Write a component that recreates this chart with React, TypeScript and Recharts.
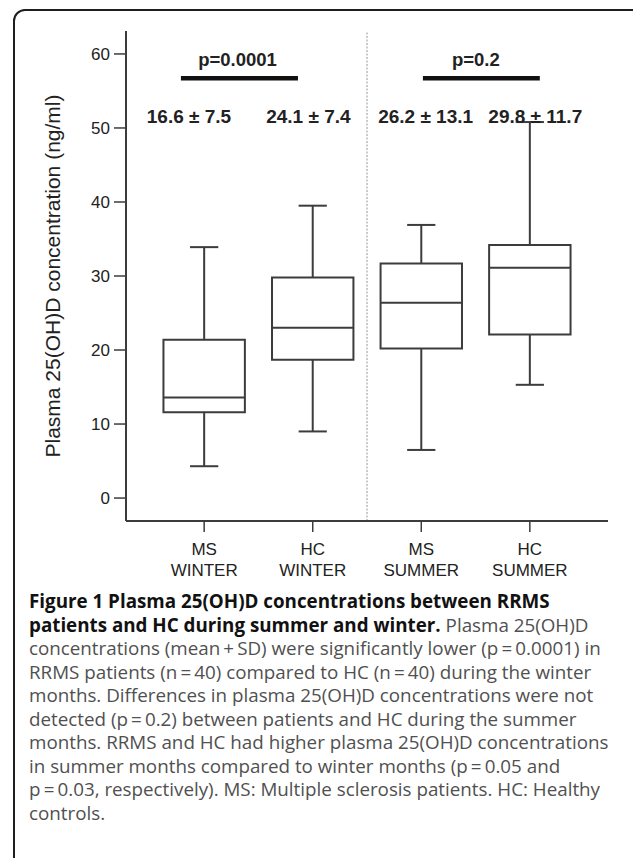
import React from "react";
import {
  ComposedChart,
  XAxis,
  YAxis,
  ReferenceArea,
  ReferenceLine,
  Scatter,
} from "recharts";

// ---------- data ----------
const GROUP_POS = [1, 2, 3, 4];
const GROUP_LINE1 = ["MS", "HC", "MS", "HC"];
const GROUP_LINE2 = ["WINTER", "WINTER", "SUMMER", "SUMMER"];
const WHISKER_LOW = [4.3, 9.0, 6.5, 15.3];
const Q1 = [11.6, 18.7, 20.2, 22.1];
const MEDIAN = [13.6, 23.0, 26.4, 31.1];
const Q3 = [21.4, 29.8, 31.7, 34.2];
const WHISKER_HIGH = [33.9, 39.5, 36.9, 50.8];
const MEAN_SD_LABELS = ["16.6 ± 7.5", "24.1 ± 7.4", "26.2 ± 13.1", "29.8 ± 11.7"];
const MEAN_SD_X = [0.86, 1.96, 3.04, 4.05];
const MEAN_SD_Y = 51.5;
const P_LABELS = ["p=0.0001", "p=0.2"];
const P_LABEL_X = [1.307, 3.503];
const P_LABEL_Y = 59.3;
const P_BAR_X1 = [0.786, 3.015];
const P_BAR_X2 = [1.864, 4.092];
const P_BAR_Y = 56.7;
const DIVIDER_X = 2.5;
const Y_TICKS = [0, 10, 20, 30, 40, 50, 60];
const Y_DOMAIN = [-3.1, 63.1];
const X_DOMAIN = [0.28, 4.72];
const Y_LABEL = "Plasma 25(OH)D concentration (ng/ml)";

const BOX_HALF = 0.375;
const CAP_HALF = 0.13;

const FONT = "'Liberation Sans', Arial, Helvetica, sans-serif";
const INK = "#222";
const LINE = "#3c3c3c";

const meanSdData = MEAN_SD_LABELS.map((label, i) => ({ x: MEAN_SD_X[i], y: MEAN_SD_Y, label }));
const pData = P_LABELS.map((label, i) => ({ x: P_LABEL_X[i], y: P_LABEL_Y, label }));

const XTick = (props: any) => {
  const { x, y, payload } = props;
  const i = GROUP_POS.indexOf(payload.value);
  if (i < 0) return null;
  return (
    <text x={x} y={y} textAnchor="middle" fontFamily={FONT} fontSize={17} fill={INK}>
      <tspan x={x} dy={21}>{GROUP_LINE1[i]}</tspan>
      <tspan x={x} dy={21}>{GROUP_LINE2[i]}</tspan>
    </text>
  );
};

const LabelShape = (size: number) => (props: any) => {
  const { cx, cy, payload } = props;
  return (
    <text
      x={cx}
      y={cy}
      textAnchor="middle"
      dominantBaseline="central"
      fontFamily={FONT}
      fontWeight="bold"
      fontSize={size}
      fill={INK}
    >
      {payload.label}
    </text>
  );
};

const caption = (
  <>
    <b style={{ color: "#111" }}>Figure 1 Plasma 25(OH)D concentrations between RRMS</b>
    <br />
    <b style={{ color: "#111" }}>patients and HC during summer and winter.</b> Plasma 25(OH)D
    <br />
    concentrations (mean{"\u2009"}+{"\u2009"}SD) were significantly lower (p{"\u2009"}={"\u2009"}0.0001) in
    <br />
    RRMS patients (n{"\u2009"}={"\u2009"}40) compared to HC (n{"\u2009"}={"\u2009"}40) during the winter
    <br />
    months. Differences in plasma 25(OH)D concentrations were not
    <br />
    detected (p{"\u2009"}={"\u2009"}0.2) between patients and HC during the summer
    <br />
    months. RRMS and HC had higher plasma 25(OH)D concentrations
    <br />
    in summer months compared to winter months (p{"\u2009"}={"\u2009"}0.05 and
    <br />
    p{"\u2009"}={"\u2009"}0.03, respectively). MS: Multiple sclerosis patients. HC: Healthy
    <br />
    controls.
  </>
);

export default function App() {
  return (
    <div
      style={{
        position: "absolute",
        left: 0,
        top: 0,
        width: 633,
        height: 858,
        overflow: "hidden",
        background: "#fff",
      }}
    >
      <div
        style={{
          position: "absolute",
          left: 13,
          top: 9,
          width: 700,
          height: 900,
          border: "2px solid #1e1e1e",
          borderRadius: 12,
          boxSizing: "border-box",
        }}
      />
      <div style={{ position: "absolute", left: 0, top: 0 }}>
        <ComposedChart width={633} height={600} margin={{ top: 31, right: 25, bottom: 19, left: 66 }}>
          <XAxis
            xAxisId={0}
            dataKey="x"
            type="number"
            domain={X_DOMAIN}
            ticks={GROUP_POS}
            allowDataOverflow
            height={60}
            tickSize={11}
            tick={<XTick />}
            axisLine={{ stroke: LINE, strokeWidth: 2 }}
            tickLine={{ stroke: LINE, strokeWidth: 1.5 }}
            interval={0}
          />
          <XAxis
            xAxisId="top"
            orientation="top"
            type="number"
            domain={X_DOMAIN}
            allowDataOverflow
            height={0}
            tick={false}
            tickLine={false}
            axisLine={{ stroke: LINE, strokeWidth: 2 }}
          />
          <YAxis
            yAxisId={0}
            type="number"
            domain={Y_DOMAIN}
            ticks={Y_TICKS}
            allowDataOverflow
            width={60}
            tickSize={12}
            tickMargin={4}
            tick={{ fontFamily: FONT, fontSize: 17, fill: INK }}
            axisLine={{ stroke: LINE, strokeWidth: 2 }}
            tickLine={{ stroke: LINE, strokeWidth: 1.5 }}
            interval={0}
            label={{
              value: Y_LABEL,
              angle: -90,
              position: "insideLeft",
              offset: -13,
              style: { textAnchor: "middle", fontFamily: FONT, fontSize: 21, fill: INK },
            }}
          />
          <YAxis
            yAxisId="right"
            orientation="right"
            type="number"
            domain={Y_DOMAIN}
            allowDataOverflow
            width={0}
            tick={false}
            tickLine={false}
            axisLine={{ stroke: LINE, strokeWidth: 2 }}
          />

          <ReferenceLine
            x={DIVIDER_X}
            stroke="#a8a8a8"
            strokeWidth={1.2}
            strokeDasharray="2 1.5"
          />

          {GROUP_POS.map((p, i) => (
            <ReferenceLine
              key={`wl${i}`}
              segment={[{ x: p, y: WHISKER_LOW[i] }, { x: p, y: Q1[i] }]}
              stroke={LINE}
              strokeWidth={2}
            />
          ))}
          {GROUP_POS.map((p, i) => (
            <ReferenceLine
              key={`wh${i}`}
              segment={[{ x: p, y: Q3[i] }, { x: p, y: WHISKER_HIGH[i] }]}
              stroke={LINE}
              strokeWidth={2}
            />
          ))}
          {GROUP_POS.map((p, i) => (
            <ReferenceLine
              key={`cl${i}`}
              segment={[{ x: p - CAP_HALF, y: WHISKER_LOW[i] }, { x: p + CAP_HALF, y: WHISKER_LOW[i] }]}
              stroke={LINE}
              strokeWidth={2}
            />
          ))}
          {GROUP_POS.map((p, i) => (
            <ReferenceLine
              key={`ch${i}`}
              segment={[{ x: p - CAP_HALF, y: WHISKER_HIGH[i] }, { x: p + CAP_HALF, y: WHISKER_HIGH[i] }]}
              stroke={LINE}
              strokeWidth={2}
            />
          ))}
          {GROUP_POS.map((p, i) => (
            <ReferenceArea
              key={`box${i}`}
              x1={p - BOX_HALF}
              x2={p + BOX_HALF}
              y1={Q1[i]}
              y2={Q3[i]}
              fill="none"
              fillOpacity={0}
              stroke={LINE}
              strokeWidth={2}
            />
          ))}
          {GROUP_POS.map((p, i) => (
            <ReferenceLine
              key={`md${i}`}
              segment={[{ x: p - BOX_HALF, y: MEDIAN[i] }, { x: p + BOX_HALF, y: MEDIAN[i] }]}
              stroke={LINE}
              strokeWidth={2}
            />
          ))}
          {P_BAR_X1.map((x1, i) => (
            <ReferenceLine
              key={`pb${i}`}
              segment={[{ x: x1, y: P_BAR_Y }, { x: P_BAR_X2[i], y: P_BAR_Y }]}
              stroke="#111"
              strokeWidth={4.5}
            />
          ))}

          <Scatter
            data={meanSdData}
            dataKey="y"
            isAnimationActive={false}
            shape={LabelShape(19)}
          />
          <Scatter
            data={pData}
            dataKey="y"
            isAnimationActive={false}
            shape={LabelShape(18.5)}
          />
        </ComposedChart>
      </div>
      <div
        style={{
          position: "absolute",
          left: 29,
          top: 590,
          fontFamily: "'Open Sans', sans-serif",
          fontSize: 18.8,
          lineHeight: "23.5px",
          color: "#505050",
          whiteSpace: "nowrap",
        }}
      >
        {caption}
      </div>
    </div>
  );
}
